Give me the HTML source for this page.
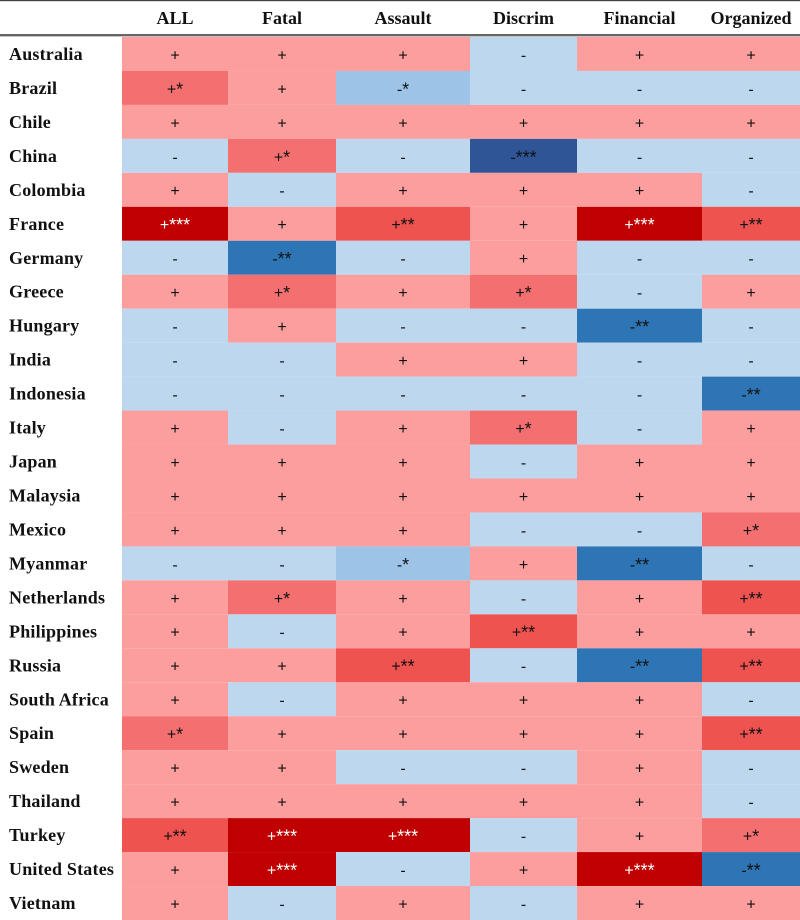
<!DOCTYPE html>
<html>
<head>
<meta charset="utf-8">
<style>
html,body{margin:0;padding:0;background:#fff;}
svg{display:block;}
.head{font-family:"Liberation Serif",serif;font-weight:bold;font-size:18px;fill:#111;text-anchor:middle;}
.rowlab{font-family:"Liberation Serif",serif;font-weight:bold;font-size:18px;letter-spacing:0.2px;fill:#111;}
.val{font-family:"Liberation Sans",sans-serif;font-size:16px;text-anchor:middle;}
.stars{font-size:18px;}
</style>
</head>
<body>
<svg id="chart" width="800" height="920" viewBox="0 0 800 920" xmlns="http://www.w3.org/2000/svg"></svg>
<script>
const countries = ["Australia","Brazil","Chile","China","Colombia","France","Germany","Greece","Hungary","India","Indonesia","Italy","Japan","Malaysia","Mexico","Myanmar","Netherlands","Philippines","Russia","South Africa","Spain","Sweden","Thailand","Turkey","United States","Vietnam"];
const categories = ["ALL","Fatal","Assault","Discrim","Financial","Organized"];
const allValues = ["+","+*","+","-","+","+***","-","+","-","-","-","+","+","+","+","-","+","+","+","+","+*","+","+","+**","+","+"];
const fatalValues = ["+","+","+","+*","-","+","-**","+*","+","-","-","-","+","+","+","-","+*","-","+","-","+","+","+","+***","+***","-"];
const assaultValues = ["+","-*","+","-","+","+**","-","+","-","+","-","+","+","+","+","-*","+","+","+**","+","+","-","+","+***","-","+"];
const discrimValues = ["-","-","+","-***","+","+","+","+*","-","+","-","+*","-","+","-","+","-","+**","-","+","+","-","+","-","+","-"];
const financialValues = ["+","-","+","-","+","+***","-","-","-**","-","-","-","+","+","-","-**","+","+","-**","+","+","+","+","+","+***","+"];
const organizedValues = ["+","-","+","-","-","+**","-","+","-","-","-**","+","+","+","+*","-","+**","+","+**","-","+**","-","-","+*","-**","+"];
const series = [allValues,fatalValues,assaultValues,discrimValues,financialValues,organizedValues];
const colorScale = {"+":"#fd9e9e","+*":"#f47070","+**":"#ee5350","+***":"#c00000","-":"#bdd7ee","-*":"#9dc3e6","-**":"#2e75b6","-***":"#2f5597"};

const NS = "http://www.w3.org/2000/svg";
const svg = document.getElementById("chart");
const colEdges = [122,228,336,470,577,702,800];
const rowTop = 37, rowH = 883 / countries.length;
const xLeft = i => colEdges[i];
const xRight = i => colEdges[i + 1];
const yTop = r => rowTop + r * rowH;
function slug(s){ return s.toLowerCase().replace(/\s+/g,"-"); }

function mk(tag, attrs, parent){
  const el = document.createElementNS(NS, tag);
  for (const k in attrs) el.setAttribute(k, attrs[k]);
  parent.appendChild(el);
  return el;
}

categories.forEach((cat, c) => {
  series[c].forEach((v, r) => {
    const rect = mk("rect", {x:xLeft(c), y:yTop(r), width:xRight(c)-xLeft(c), height:rowH, fill:colorScale[v]}, svg);
    
    
  });
});

categories.forEach((cat, c) => {
  series[c].forEach((v, r) => {
    const t = mk("text", {x:(xLeft(c)+xRight(c))/2, y:yTop(r)+rowH/2+6.4, class:"val", fill:v==="+***"?"#ffffff":"#111111"}, svg);
    
    
    t.appendChild(document.createTextNode(v.charAt(0)));
    if (v.length > 1) {
      const s = mk("tspan", {class:"stars", dy:"1"}, t);
      
      
      s.textContent = v.slice(1);
    }
  });
  const h = mk("text", {x:(xLeft(c)+xRight(c))/2, y:24, class:"head"}, svg);
  
  
  h.textContent = cat;
});

countries.forEach((name, r) => {
  const t = mk("text", {x:9, y:yTop(r)+rowH/2+6, class:"rowlab"}, svg);
  
  
  t.textContent = name;
});

const topRule = mk("rect", {x:0, y:0, width:800, height:1.2, fill:"#444"}, svg);


const headRule = mk("rect", {x:0, y:34, width:800, height:2.4, fill:"#666"}, svg);


</script>
</body>
</html>
